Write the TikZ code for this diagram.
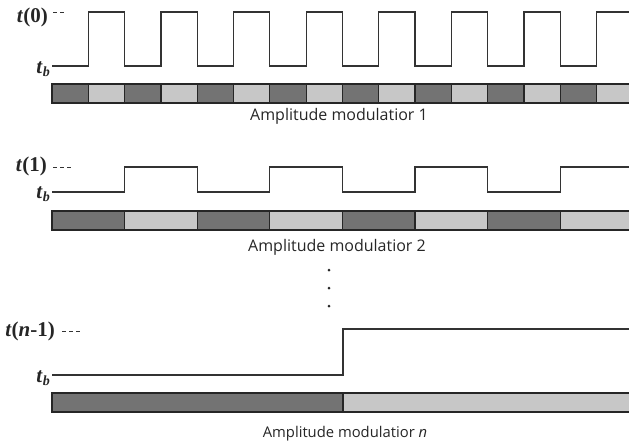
\documentclass[tikz,border=0pt]{standalone}
\usepackage{fontspec}
\setmainfont{Liberation Serif}
\newfontfamily\capfont{Open Sans}
\begin{document}
\begin{tikzpicture}[x=1pt,y=-1pt,
  wave/.style={draw=black!80, line width=1.2pt, line join=miter},
  darkcell/.style={draw=black!85, line width=1.2pt, fill=black!55},
  lightcell/.style={draw=black!85, line width=1.2pt, fill=black!22},
  lvl/.style={font=\bfseries\fontsize{21}{24}\selectfont, text=black!85, inner sep=0pt, anchor=east},
  caption/.style={font=\capfont\fontsize{16}{18}\selectfont, text=black!85, inner sep=0pt},
  dots/.style={draw=black!80, line width=0.9pt, dash pattern=on 3.5pt off 3.5pt}]
\useasboundingbox (0,0) rectangle (629,445);
\def\h{36.3}
\newcommand\tb{\textit{t}\raisebox{-0.35ex}{\fontsize{14}{16}\selectfont\textit{b}}}

% ---- channel 0 ----
\foreach \i in {0,...,16}{
  \pgfmathsetmacro\xa{52+\i*\h}
  \pgfmathsetmacro\xb{52+(\i+1)*\h}
  \pgfmathparse{mod(\i,2)==0 ? "darkcell" : "lightcell"}
  \edef\cellstyle{\pgfmathresult}
  \path[\cellstyle] (\xa,84) rectangle (\xb,103);
}
\draw[wave] (52,66)
  \foreach \k in {0,...,8}{
    -- ({52+(2*\k+1)*\h},66) -- ({52+(2*\k+1)*\h},12)
    -- ({52+(2*\k+2)*\h},12) -- ({52+(2*\k+2)*\h},66) };
\node[lvl] (hi0) at (48,17) {\textit{t}(0)};
\node[lvl] (lo0) at (50,69) {\tb};
\coordinate (d0) at (65,12);
\draw[dots] (hi0.east |- d0) ++(5,0) -- (d0);
\node[caption] (cap0) at (339,116) {Amplitude modulatior 1};

% ---- channel 1 ----
\foreach \i in {0,...,7}{
  \pgfmathsetmacro\xa{52+\i*2*\h}
  \pgfmathsetmacro\xb{52+(\i+1)*2*\h}
  \pgfmathparse{mod(\i,2)==0 ? "darkcell" : "lightcell"}
  \edef\cellstyle{\pgfmathresult}
  \path[\cellstyle] (\xa,211) rectangle (\xb,230);
}
\draw[wave] (52,192)
  \foreach \k in {0,...,3}{
    -- ({52+(4*\k+2)*\h},192) -- ({52+(4*\k+2)*\h},167)
    -- ({52+(4*\k+4)*\h},167) -- ({52+(4*\k+4)*\h},192) };
\node[lvl] (hi1) at (47,166) {\textit{t}(1)};
\node[lvl] (lo1) at (50,194) {\tb};
\coordinate (d1) at (71,167);
\draw[dots] (hi1.east |- d1) ++(6,0) -- (d1);
\node[caption] (cap1) at (337,247) {Amplitude modulatior 2};

% ---- vertical ellipsis ----
\foreach \yy in {270,288,306}
  \fill[black!85] (329,\yy) circle (1.5);

% ---- channel n-1 ----
\path[darkcell] (52,393) rectangle (343,412);
\path[lightcell] (343,393) rectangle (640,412);
\draw[wave] (52,375) -- (343,375) -- (343,329) -- (640,329);
\node[lvl] (hin) at (55,331) {\textit{t}(\textit{n}-1)};
\node[lvl] (lon) at (50,378) {\tb};
\coordinate (dn) at (80,331);
\draw[dots] (hin.east |- dn) ++(7,0) -- (dn);
\node[caption, font=\capfont\fontsize{14.8}{17}\selectfont] (capn) at (345,434) {Amplitude modulatior \textit{n}};
\end{tikzpicture}
\end{document}
